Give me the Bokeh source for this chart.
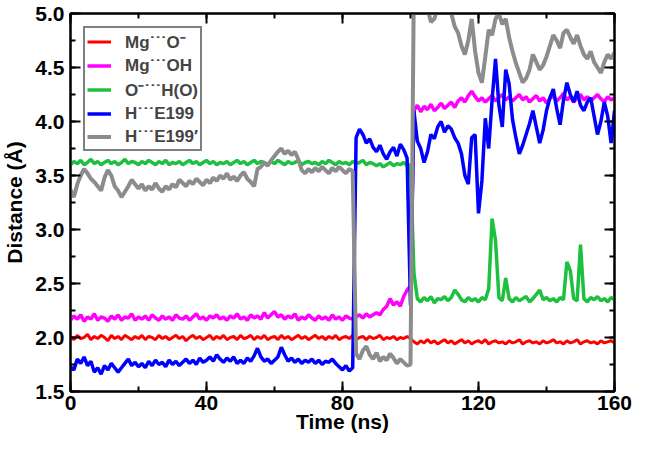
from bokeh.plotting import figure
from bokeh.models import (Range1d, LinearAxis, SingleIntervalTicker, Legend, LegendItem,
                          ColumnDataSource, PrintfTickFormatter, CustomLabelingPolicy)
from bokeh.embed import file_html
from bokeh.resources import INLINE

# ---------------- data (1 ns steps) ----------------
time_ns = list(range(0, 161))

mg_o = [
    2.01, 1.98, 2.02, 1.99, 2.00, 2.03, 1.98, 2.01, 1.99, 2.02,
    2.00, 1.97, 2.02, 1.99, 2.01, 1.98, 2.02, 2.00, 1.98, 2.01,
    1.99, 2.02, 1.98, 2.01, 2.00, 1.98, 2.02, 1.99, 2.01, 1.98,
    2.00, 2.02, 1.99, 2.01, 1.97, 2.00, 2.02, 1.99, 2.01, 1.98,
    2.00, 2.02, 1.98, 2.01, 1.99, 2.02, 1.98, 2.00, 2.01, 1.98,
    2.02, 1.99, 2.00, 2.02, 1.98, 2.01, 1.99, 2.02, 1.98, 2.00,
    2.01, 1.98, 2.02, 1.99, 2.01, 1.98, 2.00, 2.02, 1.99, 2.01,
    1.98, 2.00, 2.02, 1.99, 2.01, 1.98, 2.01, 1.99, 2.02, 1.98,
    2.00, 2.01, 1.99, 2.02, 1.98, 2.00, 2.01, 1.98, 2.01, 1.99,
    2.00, 2.02, 1.98, 2.00, 1.99, 2.01, 1.98, 2.00, 1.99, 2.01,
    1.99,
    1.96, 1.94, 1.97, 1.95, 1.98, 1.95, 1.97, 1.94, 1.96, 1.98,
    1.95, 1.97, 1.94, 1.96, 1.98, 1.95, 1.97, 1.94, 1.96, 1.97,
    1.95, 1.98, 1.94, 1.96, 1.97, 1.95, 1.96, 1.94, 1.97, 1.95,
    1.96, 1.98, 1.94, 1.96, 1.97, 1.95, 1.96, 1.94, 1.97, 1.95,
    1.96, 1.98, 1.95, 1.96, 1.94, 1.97, 1.95, 1.96, 1.98, 1.94,
    1.96, 1.97, 1.95, 1.96, 1.94, 1.97, 1.95, 1.96, 1.97, 1.95,
]

mg_oh = [
    2.16, 2.20, 2.17, 2.21, 2.15, 2.19, 2.17, 2.22, 2.16, 2.19,
    2.18, 2.15, 2.20, 2.17, 2.21, 2.16, 2.19, 2.18, 2.22, 2.16,
    2.19, 2.17, 2.20, 2.16, 2.21, 2.18, 2.16, 2.20, 2.17, 2.19,
    2.16, 2.21, 2.18, 2.17, 2.20, 2.16, 2.19, 2.22, 2.17, 2.19,
    2.16, 2.20, 2.18, 2.21, 2.17, 2.19, 2.16, 2.20, 2.18, 2.22,
    2.17, 2.19, 2.16, 2.21, 2.18, 2.20, 2.17, 2.23, 2.18, 2.21,
    2.24, 2.19, 2.21, 2.17, 2.20, 2.18, 2.22, 2.16, 2.19, 2.17,
    2.21, 2.18, 2.16, 2.20, 2.17, 2.19, 2.16, 2.21, 2.17, 2.19,
    2.16, 2.20, 2.18, 2.17, 2.19,
    2.21, 2.18, 2.22, 2.19, 2.21, 2.23, 2.21, 2.26, 2.29, 2.36,
    2.30, 2.33, 2.29, 2.38, 2.44, 2.48,
    4.10, 4.15, 4.09, 4.14, 4.11, 4.16, 4.10, 4.13, 4.17, 4.12,
    4.15, 4.18, 4.13, 4.19, 4.22, 4.18, 4.24, 4.28, 4.23, 4.19,
    4.22, 4.18, 4.21, 4.24, 4.19, 4.22, 4.25, 4.20, 4.23, 4.19,
    4.22, 4.25, 4.20, 4.23, 4.18, 4.21, 4.24, 4.19, 4.22, 4.17,
    4.21, 4.24, 4.19, 4.22, 4.26, 4.20, 4.23, 4.18, 4.22, 4.25,
    4.20, 4.23, 4.19, 4.22, 4.25, 4.21, 4.18, 4.23, 4.20, 4.22,
]

o_h = [
    3.60, 3.63, 3.61, 3.64, 3.60, 3.62, 3.65, 3.61, 3.63, 3.60,
    3.62, 3.64, 3.61, 3.63, 3.60, 3.62, 3.65, 3.61, 3.63, 3.62,
    3.60, 3.63, 3.61, 3.64, 3.62, 3.60, 3.63, 3.61, 3.64, 3.60,
    3.62, 3.61, 3.63, 3.60, 3.62, 3.64, 3.61, 3.63, 3.60, 3.62,
    3.64, 3.61, 3.63, 3.60, 3.62, 3.61, 3.63, 3.60, 3.62, 3.64,
    3.61, 3.63, 3.60, 3.62, 3.64, 3.61, 3.63, 3.62, 3.60, 3.63,
    3.61, 3.64, 3.62, 3.60, 3.63, 3.61, 3.62, 3.64, 3.60, 3.62,
    3.63, 3.61, 3.62, 3.60, 3.63, 3.61, 3.64, 3.62, 3.60, 3.63,
    3.61, 3.62, 3.60, 3.63, 3.61, 3.62, 3.64, 3.60, 3.62, 3.61,
    3.59, 3.61, 3.58, 3.60, 3.62, 3.59, 3.61, 3.60, 3.62, 3.59,
    3.60,
    2.60, 2.36, 2.33, 2.37, 2.34, 2.38, 2.32, 2.36, 2.35, 2.38,
    2.34, 2.37, 2.44, 2.40, 2.35, 2.33, 2.37, 2.34, 2.36, 2.33,
    2.37, 2.35, 2.45, 3.10, 2.90, 2.37, 2.34, 2.55, 2.36, 2.33,
    2.37, 2.34, 2.36, 2.38, 2.33, 2.36, 2.40, 2.44, 2.35, 2.37,
    2.34, 2.36, 2.33, 2.37, 2.35, 2.70, 2.62, 2.36, 2.34, 2.86,
    2.36, 2.33, 2.37, 2.35, 2.38, 2.34, 2.36, 2.33, 2.37, 2.35,
]

h_e199 = [
    1.73, 1.70, 1.80, 1.76, 1.82, 1.74, 1.78, 1.68, 1.72, 1.66,
    1.74, 1.70, 1.76, 1.72, 1.68, 1.72, 1.76, 1.80, 1.74, 1.77,
    1.73, 1.76, 1.72, 1.78, 1.74, 1.79, 1.75, 1.77, 1.73, 1.79,
    1.75, 1.78, 1.74, 1.77, 1.80, 1.76, 1.79, 1.75, 1.81, 1.77,
    1.79, 1.82, 1.78, 1.84, 1.80, 1.77, 1.81, 1.78, 1.82, 1.76,
    1.79, 1.76, 1.81, 1.78, 1.83, 1.90, 1.82, 1.78, 1.80, 1.76,
    1.79, 1.82, 1.91, 1.84, 1.78, 1.81, 1.77, 1.80, 1.76, 1.79,
    1.77, 1.80, 1.76, 1.79, 1.75, 1.78, 1.77, 1.80, 1.76, 1.73,
    1.70, 1.74, 1.69, 1.72,
    3.85, 3.93, 3.88, 3.80, 3.84, 3.76, 3.72, 3.78, 3.70, 3.65,
    3.72, 3.76, 3.68, 3.79, 3.74, 3.66,
    2.30,
    4.10, 3.82, 3.75, 3.62, 3.72, 3.88, 3.84, 3.95, 4.00, 3.90,
    3.96, 3.93, 3.85, 3.80, 3.70, 3.50, 3.42, 3.85, 3.88, 3.15,
    3.45, 4.03, 3.75, 4.20, 4.58, 4.15, 3.95, 4.48, 4.35, 4.02,
    3.85, 3.70, 3.78, 3.88, 3.98, 4.10, 3.95, 3.80, 3.92, 4.10,
    4.22, 4.30, 4.12, 3.97, 4.20, 4.36, 4.25, 4.18, 4.28, 4.15,
    4.10, 4.18, 4.22, 4.05, 3.88, 4.00, 4.18, 4.05, 3.80, 4.10,
]

h_e199p = [
    3.37, 3.30, 3.42, 3.50, 3.56, 3.52, 3.47, 3.44, 3.40, 3.36,
    3.48, 3.55, 3.50, 3.40, 3.36, 3.30, 3.35, 3.40, 3.46, 3.42,
    3.38, 3.42, 3.36, 3.40, 3.37, 3.43, 3.38, 3.35, 3.40, 3.37,
    3.42, 3.39, 3.46, 3.43, 3.40, 3.45, 3.42, 3.47, 3.44, 3.41,
    3.46, 3.43, 3.48, 3.45, 3.50, 3.47, 3.52, 3.46, 3.49, 3.45,
    3.50, 3.53, 3.47, 3.44, 3.40, 3.56, 3.58, 3.62, 3.59, 3.64,
    3.68, 3.72, 3.75, 3.70, 3.73, 3.69, 3.72, 3.65, 3.55, 3.52,
    3.56, 3.53, 3.57, 3.54, 3.58, 3.55, 3.52, 3.57, 3.54, 3.58,
    3.55, 3.52, 3.56, 3.54,
    1.85, 1.80, 1.88, 1.92, 1.84, 1.80, 1.86, 1.78, 1.82, 1.79,
    1.85, 1.81, 1.76, 1.80, 1.77, 1.74,
    1.75,
    5.30, 5.20, 5.25, 5.10, 5.05, 4.92, 4.95, 5.05, 5.20, 5.15,
    5.10, 5.00, 4.88, 4.82, 4.70, 4.62, 4.75, 4.95, 4.65, 4.45,
    4.36, 4.60, 4.85, 4.80, 4.95, 5.00, 4.90, 4.95, 4.78, 4.65,
    4.54, 4.45, 4.36, 4.40, 4.48, 4.62, 4.55, 4.48, 4.52, 4.60,
    4.70, 4.80, 4.75, 4.68, 4.82, 4.85, 4.78, 4.72, 4.80, 4.70,
    4.62, 4.58, 4.65, 4.55, 4.50, 4.45, 4.55, 4.62, 4.58, 4.64,
]

series_labels = ["Mg\u02d9\u02d9\u02d9O\u207b", "Mg\u02d9\u02d9\u02d9OH",
                 "O\u207b\u02d9\u02d9\u02d9H(O)", "H\u02d9\u02d9\u02d9E199",
                 "H\u02d9\u02d9\u02d9E199\u2032"]
series_values = [mg_o, mg_oh, o_h, h_e199, h_e199p]
series_colors = ["#ff0000", "#ff00ff", "#1ec040", "#0000ff", "#8c8c8c"]
series_widths = [3, 3.5, 3.5, 3.5, 4]

x_title = "Time (ns)"
y_title = "Distance (\u00c5)"

FONT = "Liberation Sans"

# ---------------- figure ----------------
p = figure(width=634, height=435,
           x_range=Range1d(0, 160), y_range=Range1d(1.5, 5.0),
           output_backend="svg", toolbar_location=None,
           min_border_left=10, min_border_right=20,
           min_border_top=13, min_border_bottom=0)
p.background_fill_color = "white"
p.border_fill_color = "white"
p.outline_line_color = "black"
p.outline_line_width = 2
p.xgrid.visible = False
p.ygrid.visible = False

no_labels = CustomLabelingPolicy(code="""
for (const i of indices) { indices.unset(i) }
return indices
""")

def style_axis(ax, show_labels):
    ax.axis_line_color = "black"
    ax.axis_line_width = 2
    ax.major_tick_line_color = "black"
    ax.major_tick_line_width = 2
    ax.minor_tick_line_color = "black"
    ax.minor_tick_line_width = 2
    ax.major_tick_in = 10
    ax.major_tick_out = 0
    ax.minor_tick_in = 5
    ax.minor_tick_out = 0
    if show_labels:
        ax.major_label_text_font = FONT
        ax.major_label_text_font_style = "bold"
        ax.major_label_text_font_size = "21px"
        ax.major_label_text_color = "black"
        ax.axis_label_text_font = FONT
        ax.axis_label_text_font_style = "bold"
        ax.axis_label_text_font_size = "21px"
        ax.axis_label_text_color = "black"
    else:
        ax.major_label_policy = no_labels
        ax.major_label_text_font_size = "1px"
        ax.major_label_standoff = 0

p.xaxis.ticker = SingleIntervalTicker(interval=40, num_minor_ticks=2)
p.yaxis.ticker = SingleIntervalTicker(interval=0.5, num_minor_ticks=2)
p.yaxis.formatter = PrintfTickFormatter(format="%.1f")
p.xaxis.axis_label = x_title
p.yaxis.axis_label = y_title
style_axis(p.xaxis[0], True)
style_axis(p.yaxis[0], True)
p.xaxis.major_label_standoff = 4
p.xaxis.axis_label_standoff = -3
p.yaxis.major_label_standoff = 6
p.yaxis.axis_label_standoff = 6

top_ax = LinearAxis(ticker=SingleIntervalTicker(interval=40, num_minor_ticks=2))
style_axis(top_ax, False)
p.add_layout(top_ax, "above")
right_ax = LinearAxis(ticker=SingleIntervalTicker(interval=0.5, num_minor_ticks=2))
style_axis(right_ax, False)
p.add_layout(right_ax, "right")

items = []
for lab, vals, col, w in zip(series_labels, series_values, series_colors, series_widths):
    src = ColumnDataSource(dict(t=time_ns, d=vals))
    r = p.line("t", "d", source=src, line_color=col, line_width=w)
    items.append(LegendItem(label=lab, renderers=[r]))

legend = Legend(items=items, location="top_left")
legend.margin = 13
legend.padding = 2
legend.spacing = 2
legend.label_height = 21
legend.glyph_height = 21
legend.glyph_width = 24
legend.label_standoff = 14
legend.label_text_font = FONT
legend.label_text_font_style = "bold"
legend.label_text_font_size = "17px"
legend.border_line_color = "black"
legend.border_line_width = 2
legend.background_fill_color = "white"
legend.background_fill_alpha = 1
p.add_layout(legend)

open("out.html", "w").write(file_html(p, INLINE))
